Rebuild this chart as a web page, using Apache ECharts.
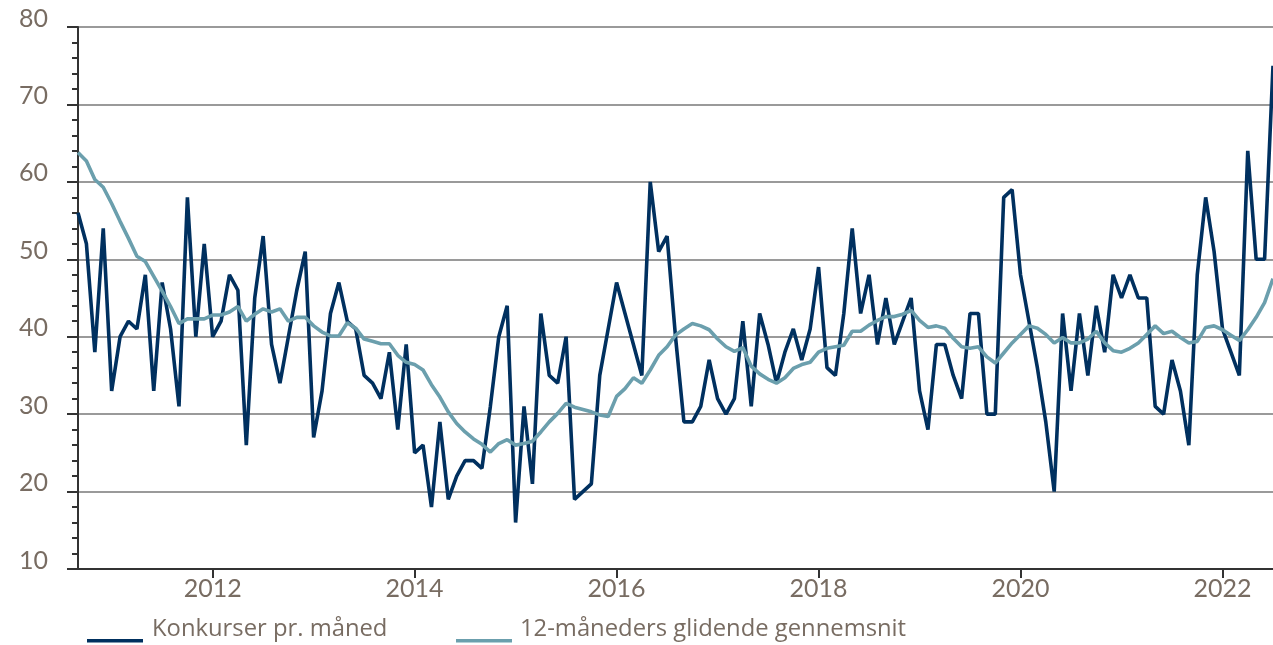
<!doctype html>
<html lang="da">
<head>
<meta charset="UTF-8">
<title>Konkurser</title>
<script src="https://cdn.jsdelivr.net/npm/echarts@6/dist/echarts.min.js"></script>
<style>
  html, body { margin: 0; padding: 0; background: #fff; }
  #main { width: 1273px; height: 645px; }
</style>
</head>
<body>
<div id="main"></div>
<script>
// months Sep 2010 - Jul 2022
var months = [];
for (var y = 2010, m = 9; y < 2022 || (y == 2022 && m <= 7); m++) {
    if (m > 12) { m = 1; y++; }
    months.push(y + '-' + (m < 10 ? '0' + m : m));
}

// Konkurser pr. maaned
var konkurser = [
    56, 52, 38, 54, 33, 40, 42, 41, 48, 33, 47, 41, 31, 58, 40, 52, 40, 42, 48, 46,
    26, 45, 53, 39, 34, 40, 46, 51, 27, 33, 43, 47, 42, 41, 35, 34, 32, 38, 28, 39,
    25, 26, 18, 29, 19, 22, 24, 24, 23, 31, 40, 44, 16, 31, 21, 43, 35, 34, 40, 19,
    20, 21, 35, 41, 47, 43, 39, 35, 60, 51, 53, 40, 29, 29, 31, 37, 32, 30, 32, 42,
    31, 43, 39, 34, 38, 41, 37, 41, 49, 36, 35, 43, 54, 43, 48, 39, 45, 39, 42, 45,
    33, 28, 39, 39, 35, 32, 43, 43, 30, 30, 58, 59, 48, 42, 36, 29, 20, 43, 33, 43,
    35, 44, 38, 48, 45, 48, 45, 45, 31, 30, 37, 33, 26, 48, 58, 51, 41, 38, 35, 64,
    50, 50, 75
];

// 12-maaneders glidende gennemsnit
var glidende = [
    63.8, 62.7, 60.3, 59.3, 57.2, 54.9, 52.7, 50.4, 49.7, 47.8, 45.9, 43.9, 41.7, 42.3, 42.3, 42.3, 42.8, 42.8, 43.2, 43.9,
    42.0, 42.9, 43.6, 43.2, 43.6, 42.0, 42.5, 42.5, 41.4, 40.6, 40.1, 40.1, 41.8, 41.1, 39.7, 39.4, 39.1, 39.1, 37.6, 36.7,
    36.4, 35.7, 33.8, 32.2, 30.3, 28.8, 27.7, 26.8, 26.1, 25.1, 26.2, 26.7, 26.0, 26.2, 26.5, 27.7, 29.0, 30.1, 31.4, 30.9,
    30.6, 30.3, 29.9, 29.7, 32.3, 33.3, 34.7, 34.0, 35.7, 37.6, 38.7, 40.2, 41.0, 41.7, 41.4, 40.9, 39.7, 38.7, 38.1, 38.6,
    36.2, 35.2, 34.5, 34.0, 34.7, 35.9, 36.4, 36.7, 38.0, 38.5, 38.7, 38.9, 40.7, 40.7, 41.5, 42.1, 42.6, 42.6, 42.9, 43.4,
    42.1, 41.2, 41.4, 41.1, 39.8, 38.7, 38.5, 38.7, 37.4, 36.6, 37.9, 39.2, 40.3, 41.4, 41.1, 40.3, 39.2, 39.9, 39.2, 39.2,
    39.7, 40.7, 39.2, 38.2, 38.0, 38.5, 39.2, 40.3, 41.4, 40.4, 40.7, 39.9, 39.2, 39.4, 41.2, 41.4, 40.9, 40.2, 39.5, 40.9,
    42.5, 44.4, 47.5
];

var yTicks = [10, 20, 30, 40, 50, 60, 70, 80];
var seriesNames = ['Konkurser pr. måned', '12-måneders glidende gennemsnit'];

var textColor = '#786c62';
var fontName = 'Lato';
var darkBlue = '#00305f';
var lightBlue = '#6b9fad';

// januar i lige aar
function isTickMonth(idx) {
    var s = months[idx];
    return s.slice(5) == '01' && parseInt(s.slice(0, 4)) % 2 == 0;
}

// signaturforklaring: streg paa tekstens grundlinje
function legendItem(x, textX, color, name) {
    return [
        { type: 'rect', left: x, top: 639, shape: { width: 56, height: 3.6 }, style: { fill: color } },
        {
            type: 'text', left: textX, top: 617,
            style: { text: name, fill: textColor, font: '23.8px "Open Sans"' }
        }
    ];
}

var myChart = echarts.init(document.getElementById('main'), null, { renderer: 'canvas' });

var option = {
    animation: false,
    textStyle: { fontFamily: fontName },
    grid: { left: 78, right: 0, top: 27, bottom: 76, containLabel: false },
    graphic: legendItem(87, 152, darkBlue, seriesNames[0])
        .concat(legendItem(456, 520, lightBlue, seriesNames[1])),
    xAxis: {
        type: 'category',
        data: months,
        boundaryGap: false,
        axisLine: { lineStyle: { color: '#333', width: 2 } },
        axisTick: {
            interval: function (idx) { return isTickMonth(idx); },
            length: 9,
            lineStyle: { color: '#333', width: 2 }
        },
        axisLabel: {
            interval: function (idx) { return isTickMonth(idx); },
            formatter: function (v) { return v.slice(0, 4); },
            color: textColor,
            fontSize: 25,
            fontFamily: fontName,
            margin: 7
        },
        splitLine: { show: false }
    },
    yAxis: {
        type: 'value',
        min: yTicks[0],
        max: yTicks[yTicks.length - 1],
        interval: 10,
        axisLine: { show: true, lineStyle: { color: '#333', width: 2 } },
        axisTick: { show: true, length: 11, lineStyle: { color: '#333', width: 2 } },
        minorTick: { show: true, splitNumber: 5, length: 6, lineStyle: { color: '#333', width: 2 } },
        axisLabel: {
            color: textColor,
            fontSize: 25,
            fontFamily: fontName,
            margin: 30,
            verticalAlign: 'bottom',
            lineHeight: 17
        },
        splitLine: { show: true, lineStyle: { color: '#9a9a9a', width: 2 } }
    },
    series: [
        {
            name: seriesNames[0],
            type: 'line',
            data: konkurser,
            symbol: 'none',
            lineStyle: { color: darkBlue, width: 3.6 },
            itemStyle: { color: darkBlue }
        },
        {
            name: seriesNames[1],
            type: 'line',
            data: glidende,
            symbol: 'none',
            lineStyle: { color: lightBlue, width: 3.6 },
            itemStyle: { color: lightBlue }
        }
    ]
};

myChart.setOption(option);
</script>
</body>
</html>
